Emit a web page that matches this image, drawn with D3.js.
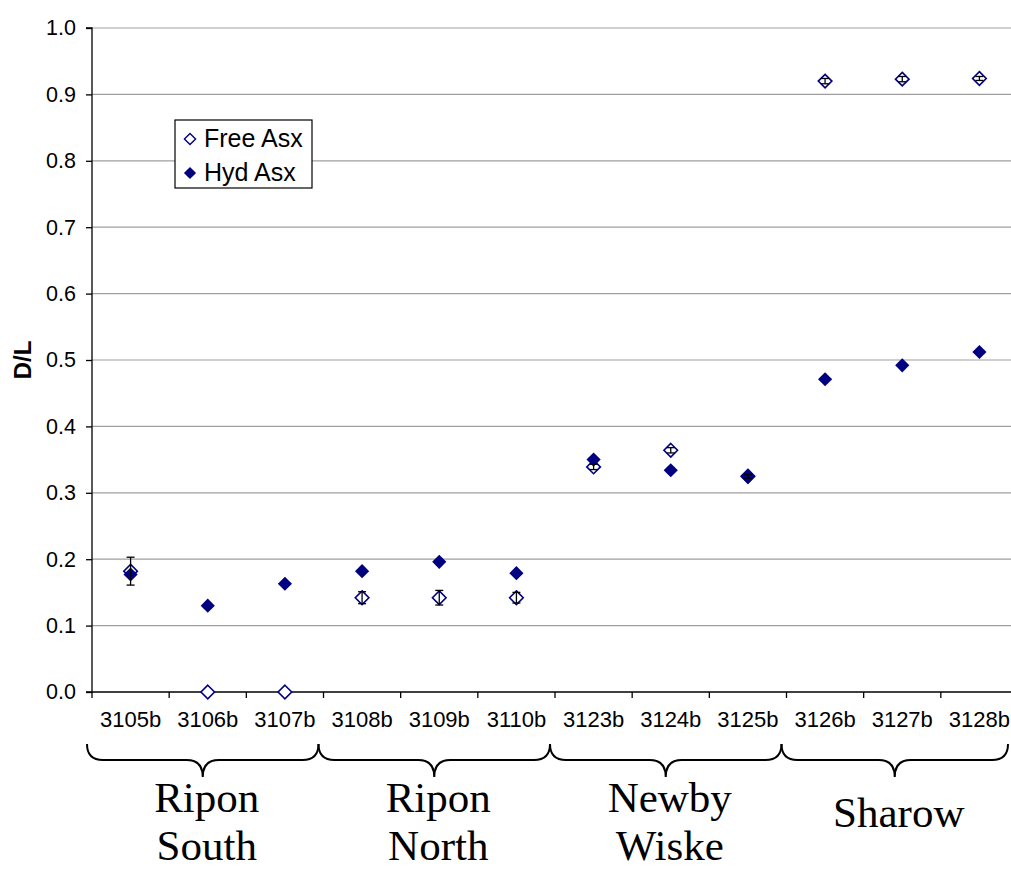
<!DOCTYPE html>
<html><head><meta charset="utf-8">
<script src="https://cdn.jsdelivr.net/npm/d3@7"></script>
<style>body{margin:0;background:#fff}svg{display:block}</style>
</head><body><svg id="c" width="1011" height="870"></svg>
<script>
const categories = ["3105b","3106b","3107b","3108b","3109b","3110b","3123b","3124b","3125b","3126b","3127b","3128b"];
const freeAsx = [0.182,0.000,0.000,0.142,0.142,0.142,0.339,0.364,0.325,0.920,0.923,0.924];
const freeErr = [0.021,0.000,0.000,0.009,0.011,0.008,0.004,0.004,0.003,0.004,0.004,0.003];
const hydAsx  = [0.177,0.130,0.163,0.182,0.196,0.179,0.350,0.334,0.324,0.471,0.492,0.512];
const yTicks = [0,0.1,0.2,0.3,0.4,0.5,0.6,0.7,0.8,0.9,1.0];
const groupLines = [["Ripon","South"],["Ripon","North"],["Newby","Wiske"],["Sharow"]];
const groupSizes = [3,3,3,3];
const seriesNames = ["Free Asx","Hyd Asx"];

const svg = d3.select("#c");
const mL = 92, mR = 1018, mT = 28, mB = 692;
const x = d3.scaleBand().domain(categories).range([mL,mR]).padding(0);
const y = d3.scaleLinear().domain([0,1]).range([mB,mT]);
const navy = "#000080";
const sans = "Arial, 'Liberation Sans', sans-serif";

// gridlines
svg.append("g").selectAll("line").data(yTicks.filter(d=>d>0)).join("line")
  .attr("x1",mL).attr("x2",mR).attr("y1",d=>y(d)).attr("y2",d=>y(d))
  .attr("stroke","#a0a0a0").attr("stroke-width",1.2);

// y axis
const ya = svg.append("g").attr("transform",`translate(${mL},0)`)
  .call(d3.axisLeft(y).tickValues(yTicks).tickFormat(d3.format(".1f")).tickSize(6).tickPadding(10));
ya.select(".domain").attr("stroke","#000").attr("stroke-width",1.3).attr("d",`M-6,${mT}H0V${mB}`);
ya.selectAll(".tick line").attr("stroke","#000").attr("stroke-width",1.3);
ya.selectAll("text").attr("font-family",sans).attr("font-size",21.5).attr("fill","#000");

// x axis
const xa = svg.append("g").attr("transform",`translate(0,${mB})`);
xa.append("line").attr("x1",mL-6).attr("x2",mR).attr("stroke","#000").attr("stroke-width",1.3);
const bounds = categories.map(c=>x(c)).concat([mR]);
xa.selectAll(".tk").data(bounds).join("line").attr("class","tk")
  .attr("x1",d=>d).attr("x2",d=>d).attr("y1",0).attr("y2",6).attr("stroke","#000").attr("stroke-width",1.3);
xa.selectAll("text").data(categories).join("text")
  .attr("x",d=>x(d)+x.bandwidth()/2).attr("y",35).attr("text-anchor","middle")
  .attr("font-family",sans).attr("font-size",22).text(d=>d);

// y title
svg.append("text").attr("transform","translate(31,360) rotate(-90)").attr("text-anchor","middle")
  .attr("font-family",sans).attr("font-weight","bold").attr("font-size",24).text("D/L");

const cx = i => x(categories[i]) + x.bandwidth()/2;

// free asx hollow diamonds
svg.append("g").selectAll("path").data(freeAsx).join("path")
  .attr("d", d3.symbol().type(d3.symbolDiamond2).size(118)())
  .attr("transform",(d,i)=>`translate(${cx(i)},${y(d)})`)
  .attr("fill","#fff").attr("stroke",navy).attr("stroke-width",1.6);
// hyd filled diamonds
svg.append("g").selectAll("path").data(hydAsx).join("path")
  .attr("d", d3.symbol().type(d3.symbolDiamond2).size(128)())
  .attr("transform",(d,i)=>`translate(${cx(i)},${y(d)})`)
  .attr("fill",navy);
// error bars on free
const eg = svg.append("g").attr("stroke","#000").attr("stroke-width",1.3);
freeAsx.forEach((v,i)=>{
  const e = freeErr[i]; if(!e) return;
  const X = cx(i), y1 = y(v+e), y2 = y(v-e);
  eg.append("line").attr("x1",X).attr("x2",X).attr("y1",y1).attr("y2",y2);
  eg.append("line").attr("x1",X-4).attr("x2",X+4).attr("y1",y1).attr("y2",y1);
  eg.append("line").attr("x1",X-4).attr("x2",X+4).attr("y1",y2).attr("y2",y2);
});

// legend
const lg = svg.append("g").attr("transform","translate(175,120)");
lg.append("rect").attr("width",137).attr("height",68).attr("fill","#fff").attr("stroke","#000").attr("stroke-width",1.2);
lg.append("path").attr("d",d3.symbol().type(d3.symbolDiamond2).size(80)()).attr("transform","translate(15,19)")
  .attr("fill","#fff").attr("stroke",navy).attr("stroke-width",1.4);
lg.append("path").attr("d",d3.symbol().type(d3.symbolDiamond2).size(95)()).attr("transform","translate(15,53)").attr("fill",navy);
lg.selectAll("text").data(seriesNames).join("text").attr("x",29).attr("y",(d,i)=>27+i*34)
  .attr("font-family",sans).attr("font-size",25).text(d=>d);

// braces and group labels
let start = 0;
const bg = svg.append("g");
groupSizes.forEach((n,gi)=>{
  const x1 = x(categories[start]) - 5;
  const x2 = Math.min((start+n < categories.length ? x(categories[start+n]) : mR) - 5, 1008);
  const xm = (x1+x2)/2;
  const y0 = 744, yh = 760, yt = 777, r = 16;
  bg.append("path").attr("fill","none").attr("stroke","#000").attr("stroke-width",2)
    .attr("d",`M${x1},${y0} Q${x1},${yh} ${x1+r},${yh} L${xm-r},${yh} Q${xm},${yh} ${xm},${yt} Q${xm},${yh} ${xm+r},${yh} L${x2-r},${yh} Q${x2},${yh} ${x2},${y0}`);
  const lines = groupLines[gi];
  const baseY = lines.length===1 ? 827 : 812;
  lines.forEach((s,k)=>bg.append("text").attr("text-anchor","middle")
    .attr("font-family","'Liberation Serif','Times New Roman',serif").attr("font-size",43)
    .attr("x",xm+4).attr("y",baseY + k*48).text(s));
  start += n;
});
</script></body></html>
